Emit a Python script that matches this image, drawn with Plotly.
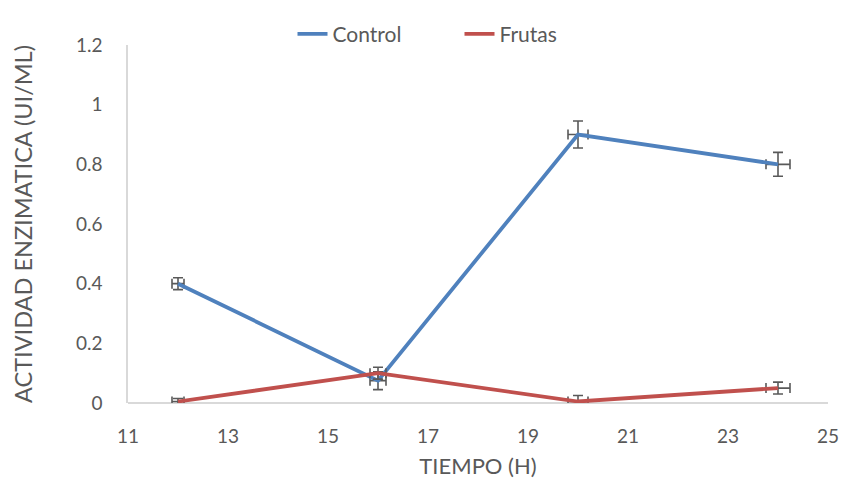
import plotly.graph_objects as go

# Sampling times (hours)
tiempo = [12, 16, 20, 24]

# Enzymatic activity (UI/mL) per treatment
control = [0.40, 0.075, 0.90, 0.80]
frutas = [0.005, 0.10, 0.005, 0.05]

# Error bar half-widths
control_err_y = [0.02, 0.03, 0.045, 0.04]
frutas_err_y = [0.01, 0.02, 0.02, 0.02]
control_err_x = [0.12, 0.16, 0.20, 0.24]
frutas_err_x = [0.12, 0.16, 0.20, 0.24]

ERR_COLOR = "#595959"
TEXT_COLOR = "#595959"
FONT = "Lato"
FS = 19

fig = go.Figure()

for name, ys, ey, ex, color in [
    ("Control", control, control_err_y, control_err_x, "#4F81BD"),
    ("Frutas", frutas, frutas_err_y, frutas_err_x, "#C0504D"),
]:
    fig.add_trace(go.Scatter(
        x=tiempo, y=ys, name=name, mode="lines",
        line=dict(color=color, width=3.8),
        error_y=dict(type="data", array=ey, visible=True,
                     color=ERR_COLOR, thickness=1.6, width=5),
        error_x=dict(type="data", array=ex, visible=True,
                     color=ERR_COLOR, thickness=1.6, width=5),
    ))

fig.update_layout(
    width=844, height=483,
    margin=dict(l=128, r=16, t=45, b=80, autoexpand=False),
    paper_bgcolor="white", plot_bgcolor="white",
    font=dict(family=FONT, size=FS, color=TEXT_COLOR),
    legend=dict(orientation="h", x=0.235, xanchor="left",
                y=1.03, yanchor="middle",
                entrywidth=122, entrywidthmode="pixels",
                font=dict(family=FONT, size=21, color=TEXT_COLOR),
                bgcolor="rgba(0,0,0,0)"),
    xaxis=dict(
        range=[11, 25], tickvals=list(range(11, 26, 2)),
        showgrid=False, zeroline=False,
        showline=False, ticks="", ticklabelstandoff=20,
        title=dict(text="TIEMPO (H)", standoff=12,
                   font=dict(family=FONT, size=22, color=TEXT_COLOR)),
        tickfont=dict(family=FONT, size=FS, color=TEXT_COLOR),
    ),
    yaxis=dict(
        range=[0, 1.2], tickvals=[0, 0.2, 0.4, 0.6, 0.8, 1, 1.2],
        ticktext=["0", "0.2", "0.4", "0.6", "0.8", "1", "1.2"],
        showgrid=False, zeroline=True, zerolinecolor="#D9D9D9",
        zerolinewidth=1.5,
        showline=True, linecolor="#D9D9D9", linewidth=1.5,
        ticks="", ticklabelstandoff=20,
        title=dict(text="ACTIVIDAD ENZIMATICA (UI/ML)", standoff=37,
                   font=dict(family=FONT, size=23.5, color=TEXT_COLOR)),
        tickfont=dict(family=FONT, size=FS, color=TEXT_COLOR),
    ),
)

fig.write_html("out.html")
